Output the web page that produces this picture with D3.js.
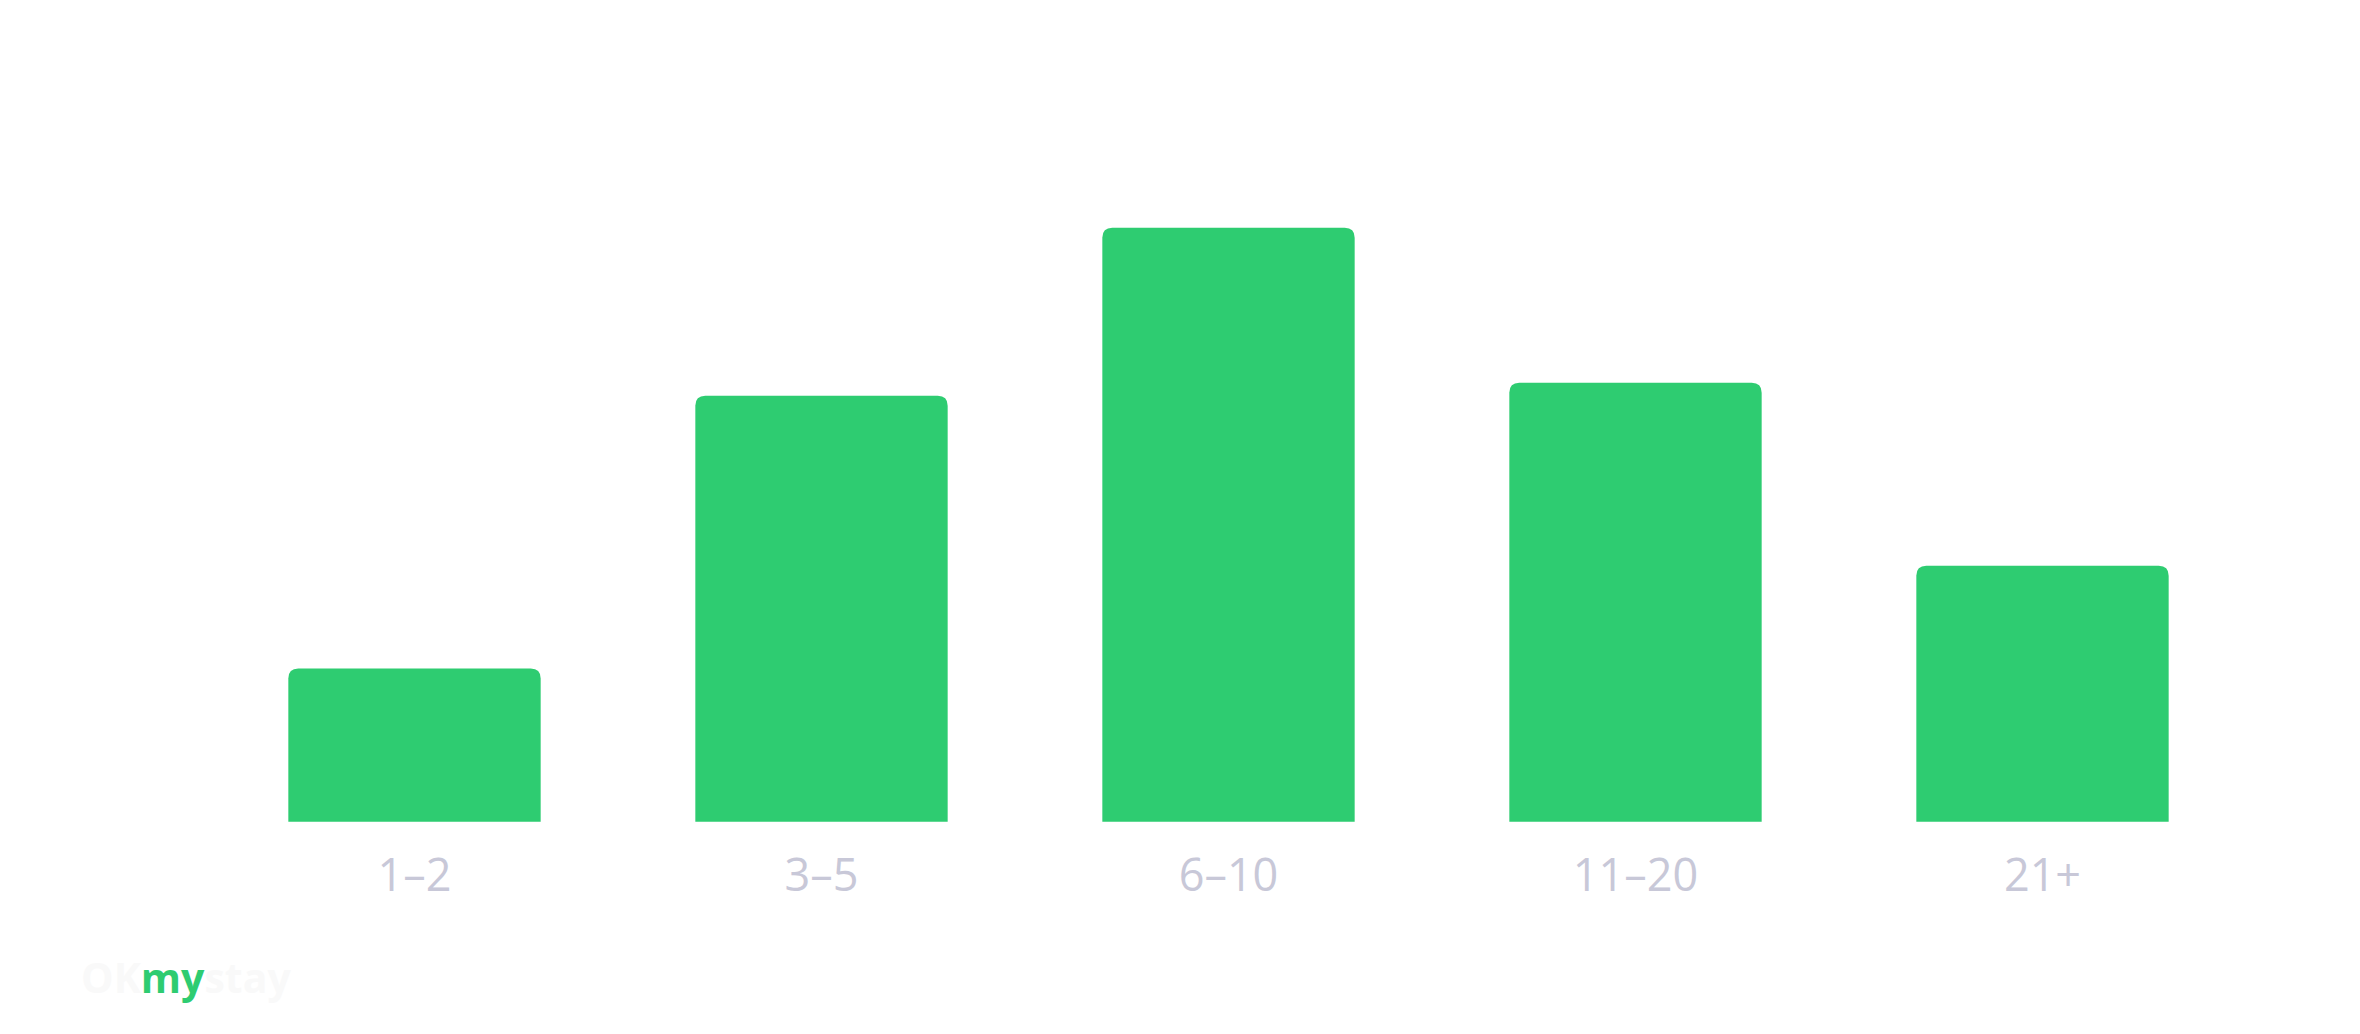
<!DOCTYPE html>
<html>
<head>
<meta charset="utf-8">
<script src="https://cdn.jsdelivr.net/npm/d3@7"></script>
<style>
  html, body { margin: 0; padding: 0; background: #fff; }
  svg { display: block; }
</style>
</head>
<body>
<div id="chart"></div>
<script>
// Data
const categories = ['1–2', '3–5', '6–10', '11–20', '21+'];
const values = [8.2, 22.8, 31.8, 23.5, 13.7];

function draw() {
  const dimensions = {
    width: 2360,
    height: 1034,
    left: 211,
    right: 114,
    baseline: 821.7,
    top: 74.5
  };

  const svg = d3.select('#chart')
    .append('svg')
    .attr('width', dimensions.width)
    .attr('height', dimensions.height);

  // Scales
  const xScale = d3.scaleBand()
    .domain(categories)
    .range([dimensions.left, dimensions.width - dimensions.right])
    .paddingInner(0.38)
    .paddingOuter(0.19);

  const yScale = d3.scaleLinear()
    .domain([0, 40])
    .range([dimensions.baseline, dimensions.top]);

  // bar with rounded top corners only
  const r = 10;
  const barPath = (d, i) => {
    const x0 = xScale(categories[i]);
    const x1 = x0 + xScale.bandwidth();
    const y0 = yScale(0);
    const y1 = yScale(d);
    return `M${x0},${y0}V${y1 + r}Q${x0},${y1} ${x0 + r},${y1}` +
      `H${x1 - r}Q${x1},${y1} ${x1},${y1 + r}V${y0}Z`;
  };

  svg.append('g')
    .selectAll('path')
    .data(values)
    .join('path')
    .attr('d', barPath)
    .attr('fill', '#2ecc71');

  // x axis labels (no line, no ticks)
  const xAxis = d3.axisBottom(xScale).tickSize(0).tickPadding(0);
  const axisG = svg.append('g')
    .attr('transform', `translate(0, ${dimensions.baseline})`)
    .call(xAxis);
  axisG.select('.domain').remove();
  axisG.selectAll('text')
    .attr('dy', null)
    .attr('y', 69)
    .attr('fill', '#c8c8d8')
    .style('font-family', '"Open Sans", "Noto Sans", sans-serif')
    .style('font-size', '45px');

  // watermark
  const logo = svg.append('text')
    .attr('x', 81)
    .attr('y', 993)
    .style('font-family', '"Open Sans", "Noto Sans", sans-serif')
    .style('font-weight', 700)
    .style('font-size', '41px');
  logo.append('tspan').attr('fill', '#f9f9f9').text('OK');
  logo.append('tspan').attr('fill', '#2ecc71').text('my');
  logo.append('tspan').attr('fill', '#f9f9f9').text('stay');
}

draw();
</script>
</body>
</html>
